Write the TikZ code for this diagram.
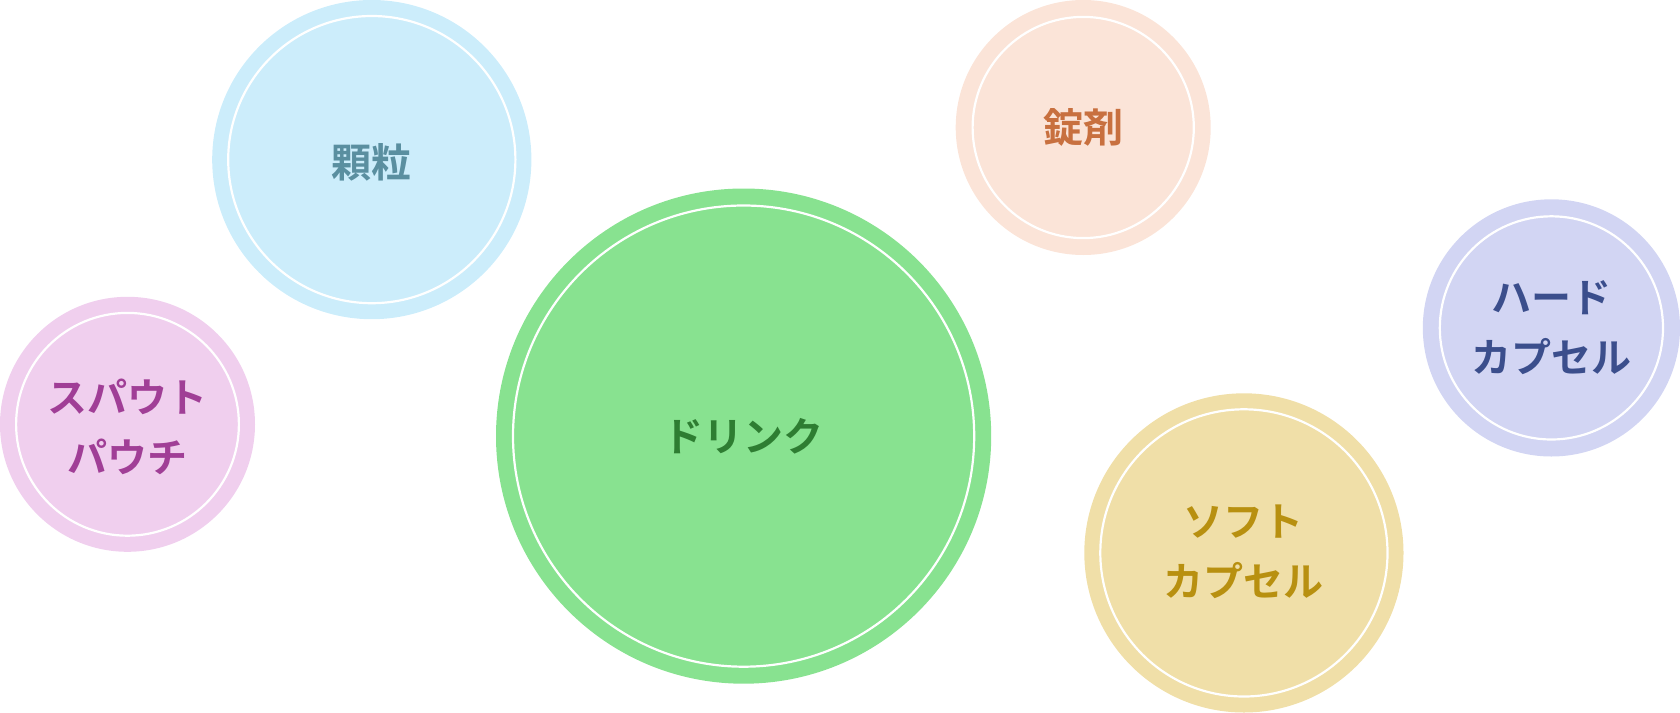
\documentclass[tikz,border=0pt]{standalone}
\usepackage{fontspec}
\newfontfamily\jp{Noto Sans CJK JP Bold}
\definecolor{fA}{HTML}{CCEDFB}\definecolor{tA}{HTML}{5A8FA0}
\definecolor{fB}{HTML}{FBE4D8}\definecolor{tB}{HTML}{C8703F}
\definecolor{fC}{HTML}{88E290}\definecolor{tC}{HTML}{2E7D32}
\definecolor{fD}{HTML}{F0CFEE}\definecolor{tD}{HTML}{A03E96}
\definecolor{fE}{HTML}{D2D5F3}\definecolor{tE}{HTML}{3B4E8C}
\definecolor{fF}{HTML}{F0DFA8}\definecolor{tF}{HTML}{B89010}
\tikzset{
  ring/.style={draw=white, line width=2.2pt},
  lbl/.style={font=\jp\fontsize{40}{60}\selectfont, align=center, inner sep=0pt}
}
\begin{document}
\begin{tikzpicture}[x=1pt,y=1pt]
\useasboundingbox (0,0) rectangle (1680,-712);
% 顆粒
\fill[fA] (371.8,-159.6) circle (159.6pt);
\draw[ring] (371.8,-159.6) circle (143.6pt);
\node[lbl, text=tA] (a) at (371.8,-162.5) {顆粒};
% 錠剤
\fill[fB] (1083.2,-127.5) circle (127.5pt);
\draw[ring] (1083.2,-127.5) circle (110.6pt);
\node[lbl, text=tB] (b) at (1083.2,-127.5) {錠剤};
% ドリンク
\fill[fC] (743.6,-436.1) circle (247.6pt);
\draw[ring] (743.6,-436.1) circle (230.6pt);
\node[lbl, text=tC] (c) at (743.6,-436.1) {ドリンク};
% スパウトパウチ
\fill[fD] (127.5,-424.3) circle (127.5pt);
\draw[ring] (127.5,-424.3) circle (111.4pt);
\node[lbl, text=tD] (d) at (127.5,-426.4) {スパウト\\パウチ};
% ハードカプセル
\fill[fE] (1551.4,-327.9) circle (128.6pt);
\draw[ring] (1551.4,-327.9) circle (111.6pt);
\node[lbl, text=tE] (e) at (1551.4,-327.9) {ハード\\カプセル};
% ソフトカプセル
\fill[fF] (1243.9,-552.9) circle (159.6pt);
\draw[ring] (1243.9,-552.9) circle (143.6pt);
\node[lbl, text=tF] (f) at (1243.9,-551.8) {ソフト\\カプセル};
\end{tikzpicture}
\end{document}
